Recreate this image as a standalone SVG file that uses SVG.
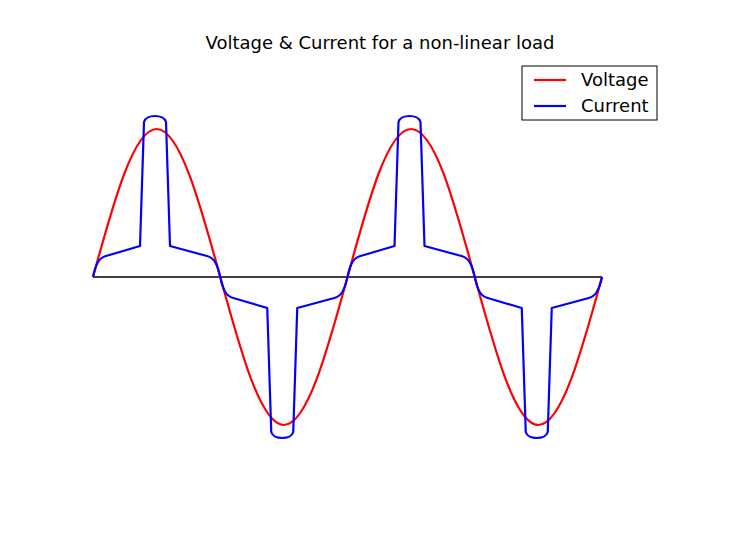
<svg xmlns="http://www.w3.org/2000/svg" width="740" height="555" viewBox="0 0 740 555">
<style>
text{font-family:"DejaVu Sans",sans-serif;font-size:18px;fill:#000}
.c{fill:none;stroke-width:2.2;stroke-linejoin:round}
</style>
<rect width="740" height="555" fill="#fff"/>
<text x="380" y="49" text-anchor="middle">Voltage &amp; Current for a non-linear load</text>
<g id="axis"><line x1="93" y1="277" x2="602" y2="277" stroke="#000" stroke-width="1.3"/></g>
<g id="voltage"><path class="c" stroke="#f00" d="M93,277 C113.75,201.2 133.6,129 156.6,129 S199.5,201.2 220.25,277 S260.9,425 283.9,425 S326.8,352.8 347.5,277 S387.6,129 411.1,129 S454,201.2 474.75,277 S515.4,425 538.4,425 S581.3,352.8 602,277"/></g>
<g id="current"><path class="c" stroke="#00f" d="M93,277 C96,263 99,258 106,256 L140,246 L144,122 C146,114 164,114 166,122 L170,246 L207,256 C214,258 217,263 220.25,277 C223.25,291 226.25,296 233.25,298 L267.25,308 L271.25,432 C273.25,440 291.25,440 293.25,432 L297.25,308 L334.25,298 C341.25,296 344.25,291 347.5,277 C350.5,263 353.5,258 360.5,256 L394.5,246 L398.5,122 C400.5,114 418.5,114 420.5,122 L424.5,246 L461.5,256 C468.5,258 471.5,263 474.75,277 C477.75,291 480.75,296 487.75,298 L521.75,308 L525.75,432 C527.75,440 545.75,440 547.75,432 L551.75,308 L588.75,298 C595.75,296 598.75,291 602,277"/></g>
<g id="legend">
<rect x="522" y="66" width="135" height="54" fill="#fff" stroke="#000" stroke-width="1"/>
<line x1="534" y1="80" x2="566" y2="80" stroke="#f00" stroke-width="2.2"/>
<text x="581" y="86">Voltage</text>
<line x1="534" y1="106" x2="566" y2="106" stroke="#00f" stroke-width="2.2"/>
<text x="581" y="112">Current</text>
</g>
</svg>
